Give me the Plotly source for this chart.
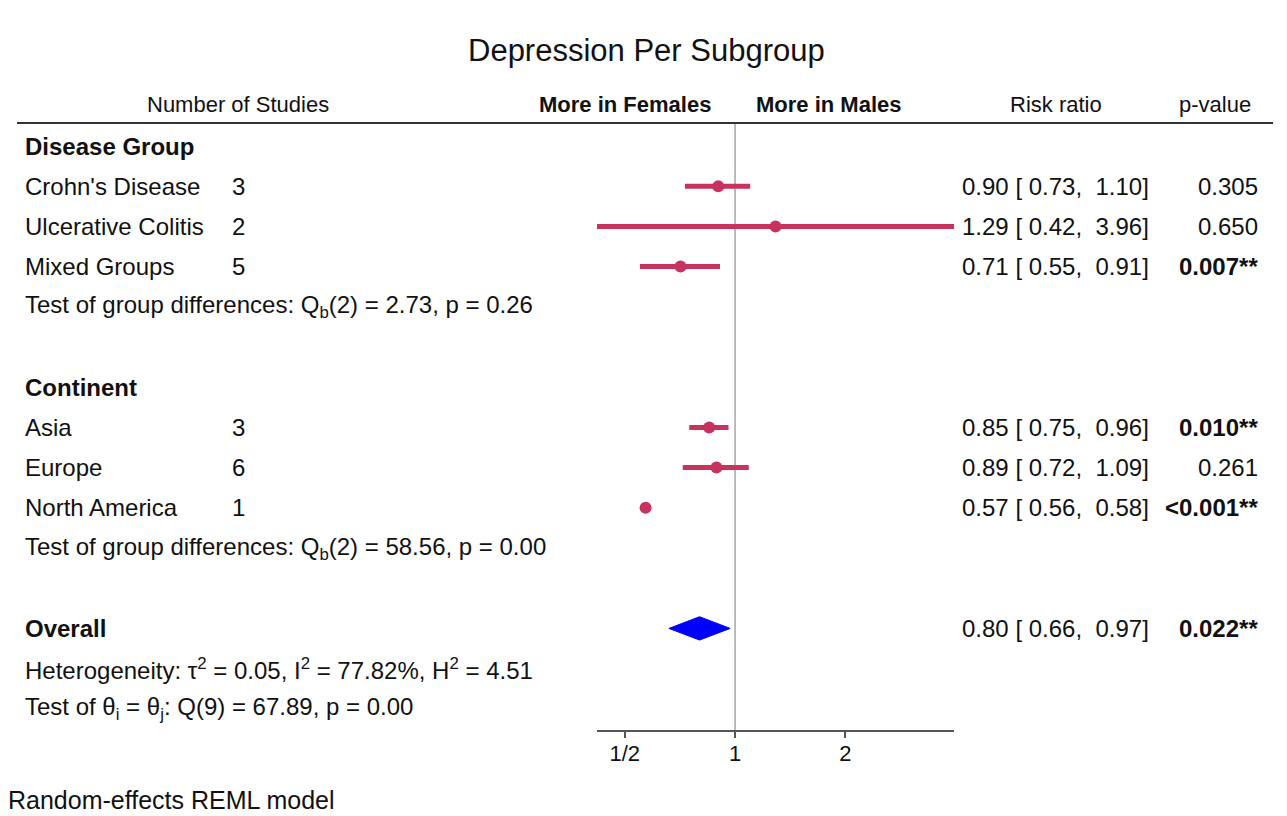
import numpy as np
import plotly.graph_objects as go

# ---------------- data ----------------
title_text = "Depression Per Subgroup"
section_names = ["Disease Group", "Continent"]
study_labels = ["Crohn's Disease", "Ulcerative Colitis", "Mixed Groups",
                "Asia", "Europe", "North America"]
n_studies = [3, 2, 5, 3, 6, 1]
rr_est = [0.90, 1.29, 0.71, 0.85, 0.89, 0.57]
rr_lo = [0.73, 0.42, 0.55, 0.75, 0.72, 0.56]
rr_hi = [1.10, 3.96, 0.91, 0.96, 1.09, 0.58]
p_text = ["0.305", "0.650", "0.007**", "0.010**", "0.261", "<0.001**"]
p_bold = [False, False, True, True, False, True]
group_tests = ["Test of group differences: Q<sub>b</sub>(2) = 2.73, p = 0.26",
               "Test of group differences: Q<sub>b</sub>(2) = 58.56, p = 0.00"]
overall_est, overall_lo, overall_hi = 0.80, 0.66, 0.97
overall_p = "0.022**"
het_text = "Heterogeneity: τ<sup>2</sup> = 0.05, I<sup>2</sup> = 77.82%, H<sup>2</sup> = 4.51"
theta_text = "Test of θ<sub>i</sub> = θ<sub>j</sub>: Q(9) = 67.89, p = 0.00"
tick_vals = [0.5, 1, 2]
tick_text = ["1/2", "1", "2"]
footnote = "Random-effects REML model"

# ---------------- layout constants ----------------
W, H = 1287, 816
ROW0_PX, ROW_H = 146, 40.2
FONT = "Liberation Sans, Arial, Helvetica, sans-serif"
COL = "#C7325F"
BODY = 24
HEAD = 22

def row_of(px):
    return (px - ROW0_PX) / ROW_H

section_rows = [0, 6]
study_rows = [1, 2, 3, 7, 8, 9]
test_rows = [4, 10]
overall_row, het_row, theta_row = 12, 13, 14
AXIS_PX = 730
HEADER_LINE_PX = 123

fig = go.Figure()

# reference line at 1
fig.add_trace(go.Scatter(x=[1, 1], y=[row_of(HEADER_LINE_PX), row_of(AXIS_PX)],
                         mode="lines", line=dict(color="#8f8f8f", width=1.2),
                         hoverinfo="skip", showlegend=False))

# CI lines
xs, ys = [], []
for lo, hi, r in zip(rr_lo, rr_hi, study_rows):
    xs += [lo, hi, None]
    ys += [r, r, None]
fig.add_trace(go.Scatter(x=xs, y=ys, mode="lines",
                         line=dict(color=COL, width=5), showlegend=False,
                         hoverinfo="skip"))
# point estimates
fig.add_trace(go.Scatter(x=rr_est, y=study_rows, mode="markers",
                         marker=dict(color=COL, size=12), showlegend=False))

# overall diamond
dh = 0.29
fig.add_trace(go.Scatter(x=[overall_lo, overall_est, overall_hi, overall_est, overall_lo],
                         y=[overall_row, overall_row - dh, overall_row, overall_row + dh, overall_row],
                         mode="lines", fill="toself", fillcolor="#0000FF",
                         line=dict(color="#0000FF", width=1), showlegend=False))

ann = []
def txt(xpx, ypx, text, size=BODY, anchor="left", bold=False):
    if bold:
        text = "<b>" + text + "</b>"
    if anchor == "left":
        xpx -= 2
    elif anchor == "right":
        xpx += 2
    ann.append(dict(x=xpx / W, xref="paper", y=1 - ypx / H, yref="paper", text=text,
                    showarrow=False, xanchor=anchor, yanchor="middle",
                    font=dict(family=FONT, size=size, color="#111")))

def row_px(r):
    return ROW0_PX + r * ROW_H

# title and headers
txt(W / 2 + 3, 50, title_text, size=31, anchor="center")
txt(238, 104, "Number of Studies", size=HEAD, anchor="center")
txt(711, 104, "More in Females", size=HEAD, anchor="right", bold=True)
txt(756, 104, "More in Males", size=HEAD, anchor="left", bold=True)
txt(1056, 104, "Risk ratio", size=HEAD, anchor="center")
txt(1215, 104, "p-value", size=HEAD, anchor="center")

for name, r in zip(section_names, section_rows):
    txt(25, row_px(r), name, bold=True)
NB = "\u00a0"
for lab, n, e, lo, hi, p, b, r in zip(study_labels, n_studies, rr_est, rr_lo, rr_hi,
                                       p_text, p_bold, study_rows):
    txt(25, row_px(r), lab)
    txt(232, row_px(r), str(n))
    txt(1149, row_px(r), f"{e:.2f} [{NB}{lo:.2f},{NB}{NB}{hi:.2f}]", anchor="right")
    txt(1258, row_px(r), p, anchor="right", bold=b)
for t, r in zip(group_tests, test_rows):
    txt(25, row_px(r), t)
txt(25, row_px(overall_row), "Overall", bold=True)
txt(1149, row_px(overall_row),
    f"{overall_est:.2f} [{NB}{overall_lo:.2f},{NB}{NB}{overall_hi:.2f}]", anchor="right")
txt(1258, row_px(overall_row), overall_p, anchor="right", bold=True)
txt(25, row_px(het_row), het_text)
txt(25, row_px(theta_row), theta_text)
txt(8, 800, footnote, size=25)

fig.update_layout(
    width=W, height=H, margin=dict(l=0, r=0, t=0, b=0),
    paper_bgcolor="white", plot_bgcolor="white",
    annotations=ann,
    shapes=[dict(type="line", xref="paper", yref="paper",
                 x0=17 / W, x1=1273 / W,
                 y0=1 - HEADER_LINE_PX / H, y1=1 - HEADER_LINE_PX / H,
                 line=dict(color="#333", width=2))],
    xaxis=dict(type="log", range=[np.log10(min(rr_lo)), np.log10(max(rr_hi))],
               domain=[597 / W, 954 / W], showline=True, linecolor="#555",
               linewidth=1.5, ticks="outside", ticklen=6, tickcolor="#555",
               tickwidth=1.5, tickvals=tick_vals, ticktext=tick_text,
               ticklabelstandoff=-3,
               showgrid=False, zeroline=False,
               tickfont=dict(family=FONT, size=HEAD, color="#111")),
    yaxis=dict(domain=[1 - AXIS_PX / H, 1],
               range=[row_of(AXIS_PX), row_of(0)],
               visible=False, showgrid=False, zeroline=False),
    showlegend=False,
)

fig.write_html("out.html")
